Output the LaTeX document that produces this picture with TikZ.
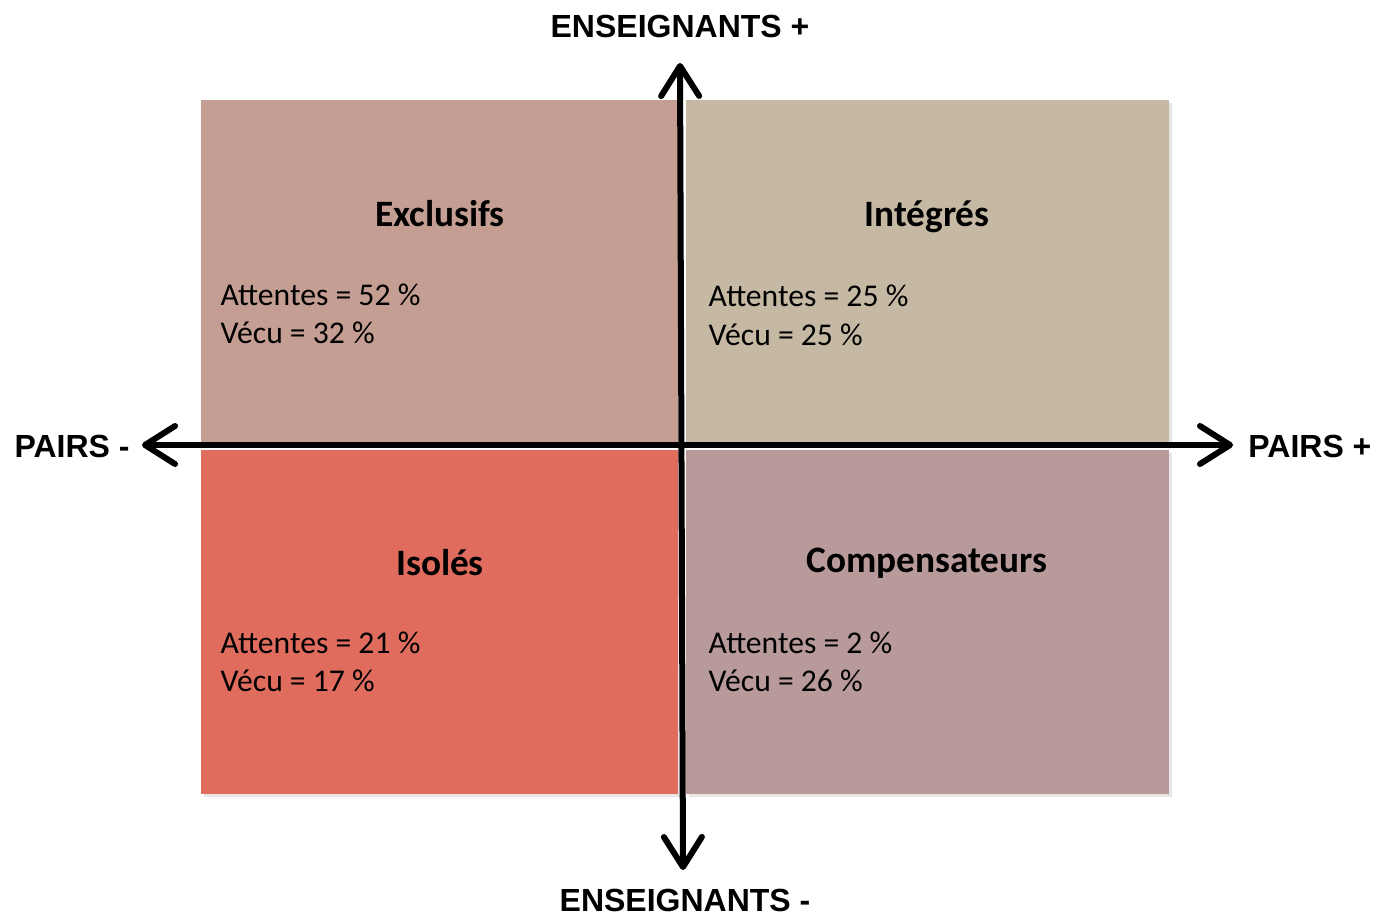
\documentclass[tikz,border=0pt]{standalone}
\usepackage{fontspec}
\setmainfont{Carlito}
\newfontfamily\axisfont{Liberation Sans}
\usetikzlibrary{arrows.meta,positioning,shadows}

\definecolor{exclcol}{RGB}{196,158,146}
\definecolor{integcol}{RGB}{197,185,163}
\definecolor{isolcol}{RGB}{224,108,94}
\definecolor{compcol}{RGB}{184,154,154}

\tikzset{
    quad/.style={rectangle, inner sep=0, anchor=north west,
        drop shadow={shadow xshift=0.03cm, shadow yshift=-0.03cm, opacity=0.2}},
    quadtitle/.style={font=\bfseries\fontsize{10.6}{13}\selectfont},
    quadtext/.style={anchor=west, inner sep=0, text height=0.23cm, text depth=0.07cm,
        font=\fontsize{9}{11}\selectfont},
    axis/.style={line width=0.06cm, {Straight Barb[round,length=0.3cm,width=0.38cm]}-{Straight Barb[round,length=0.3cm,width=0.38cm]}},
    axislabel/.style={font=\axisfont\bfseries\fontsize{9.1}{11}\selectfont}
}

\begin{document}
\begin{tikzpicture}[x=0.01cm, y=-0.01cm]
        \useasboundingbox (0,0) rectangle (1383,922);
        % Draw quadrants
        \node[quad, fill=exclcol, minimum width=4.77cm, minimum height=3.42cm] (excl) at (200,99) {};
        \node[quad, fill=integcol, minimum width=4.83cm, minimum height=3.42cm] (integ) at (685,99) {};
        \node[quad, fill=isolcol, minimum width=4.77cm, minimum height=3.44cm] (isol) at (200,449) {};
        \node[quad, fill=compcol, minimum width=4.83cm, minimum height=3.44cm] (comp) at (685,449) {};
        % Label quadrants
        \node[quadtitle] (exclT) at (440,214) {Exclusifs};
        \node[quadtitle] (integT) at (927,217) {Intégrés};
        \node[quadtitle] (isolT) at (440,563) {Isolés};
        \node[quadtitle] (compT) at (927,563) {Compensateurs};
        % Percentages
        \node[quadtext] (exclA) at (220,297) {Attentes = 52 \%};
        \node[quadtext, below=0.07cm of exclA.south west, anchor=north west] (exclV) {Vécu = 32 \%};
        \node[quadtext] (integA) at (708,299) {Attentes = 25 \%};
        \node[quadtext, below=0.07cm of integA.south west, anchor=north west] (integV) {Vécu = 25 \%};
        \node[quadtext] (isolA) at (220,645) {Attentes = 21 \%};
        \node[quadtext, below=0.07cm of isolA.south west, anchor=north west] (isolV) {Vécu = 17 \%};
        \node[quadtext] (compA) at (708,645) {Attentes = 2 \%};
        \node[quadtext, below=0.07cm of compA.south west, anchor=north west] (compV) {Vécu = 26 \%};
        % Draw axes
        \coordinate (W) at (142,445);
        \coordinate (E) at (1233,445);
        \coordinate (N) at (680,63);
        \coordinate (S) at (683,870);
        \draw[axis] (W) -- (E);
        \draw[axis] (S) -- (N);
        % Label axes
        \node[axislabel] (ensplus) at (680,26) {ENSEIGNANTS +};
        \node[axislabel] (ensminus) at (685,900) {ENSEIGNANTS -};
        \node[axislabel, anchor=east] (pairsminus) at (142,446) {PAIRS -};
        \node[axislabel, anchor=west] (pairsplus) at (1236,446) {PAIRS +};
    \end{tikzpicture}
\end{document}
